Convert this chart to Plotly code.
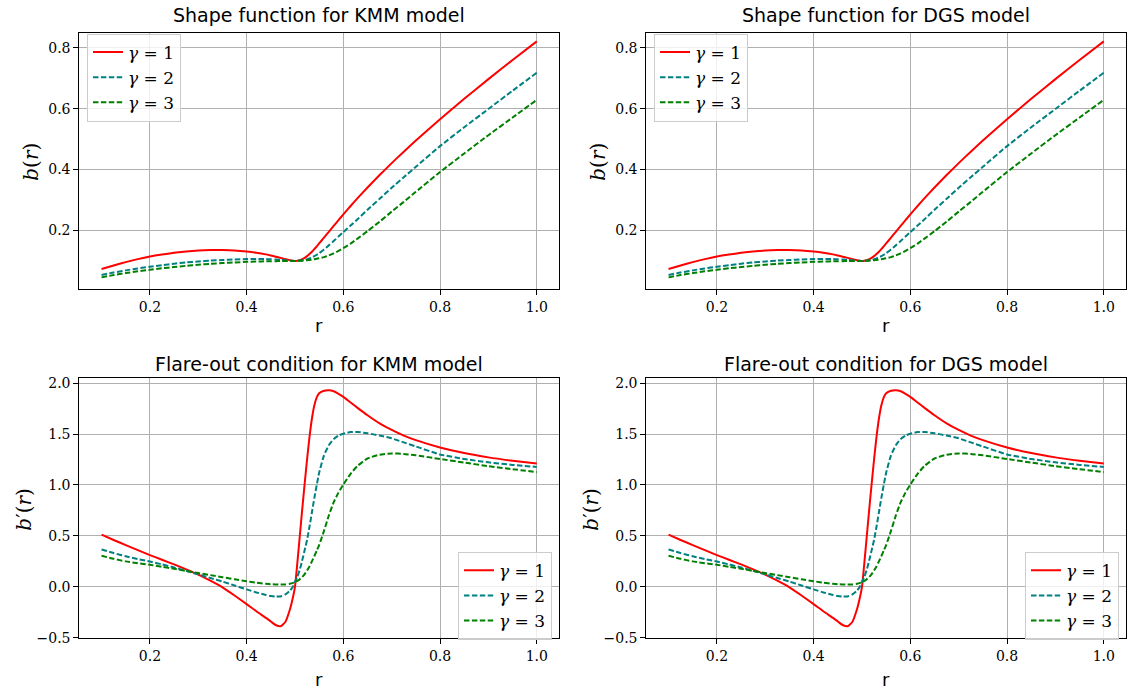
import plotly.graph_objects as go

# ---------------- data ----------------
r = [0.1, 0.125, 0.15, 0.175, 0.2, 0.225, 0.25, 0.275, 0.3, 0.325, 0.35, 0.375, 0.4,
     0.42, 0.44, 0.45, 0.46, 0.47, 0.48, 0.49, 0.495, 0.5, 0.505, 0.51, 0.515, 0.52,
     0.525, 0.53, 0.535, 0.54, 0.545, 0.55, 0.56, 0.57, 0.58, 0.59, 0.6, 0.615, 0.63,
     0.65, 0.675, 0.7, 0.725, 0.75, 0.8, 0.85, 0.9, 0.95, 1.0]

# shape function b(r)
b_g1 = [0.0735, 0.085, 0.096, 0.106, 0.1145, 0.121, 0.1265, 0.131, 0.134, 0.1355, 0.136, 0.1345, 0.131,
        0.127, 0.1215, 0.118, 0.114, 0.110, 0.106, 0.1025, 0.101, 0.100, 0.1006, 0.1025, 0.1056, 0.110,
        0.1157, 0.1225, 0.1303, 0.1389, 0.148, 0.1574, 0.1765, 0.1958, 0.215, 0.234, 0.2528, 0.2803, 0.3069,
        0.3411, 0.382, 0.4212, 0.4589, 0.4954, 0.5655, 0.6325, 0.6971, 0.7598, 0.821]
b_g2 = [0.054, 0.062, 0.069, 0.0755, 0.081, 0.086, 0.091, 0.095, 0.098, 0.101, 0.103, 0.105, 0.106,
        0.1063, 0.106, 0.1055, 0.1045, 0.1035, 0.102, 0.1007, 0.1002, 0.100, 0.1004, 0.1011, 0.1021, 0.1037,
        0.1057, 0.1084, 0.1117, 0.1157, 0.1203, 0.1256, 0.1377, 0.1511, 0.1653, 0.180, 0.1949, 0.216, 0.238,
        0.268, 0.304, 0.340, 0.375, 0.409, 0.477, 0.539, 0.599, 0.659, 0.718]
b_g3 = [0.046, 0.0535, 0.060, 0.066, 0.071, 0.0758, 0.080, 0.084, 0.0875, 0.0905, 0.093, 0.095, 0.097,
        0.098, 0.0988, 0.0991, 0.0993, 0.0995, 0.0997, 0.0999, 0.0999, 0.100, 0.1003, 0.1006, 0.101, 0.1016,
        0.1023, 0.1032, 0.1043, 0.1057, 0.1073, 0.1088, 0.1125, 0.118, 0.125, 0.133, 0.142, 0.157, 0.174,
        0.198, 0.229, 0.262, 0.294, 0.327, 0.392, 0.453, 0.513, 0.571, 0.629]

# flare-out b'(r)
db_g1 = [0.512, 0.460, 0.410, 0.360, 0.312, 0.266, 0.220, 0.172, 0.120, 0.060, -0.005, -0.085, -0.170,
         -0.240, -0.305, -0.340, -0.375, -0.387, -0.345, -0.215, -0.12, 0.0, 0.24, 0.50, 0.76, 1.01,
         1.25, 1.47, 1.65, 1.78, 1.86, 1.90, 1.925, 1.93, 1.92, 1.895, 1.865, 1.81, 1.755,
         1.685, 1.605, 1.54, 1.485, 1.44, 1.368, 1.313, 1.271, 1.238, 1.21]
db_g2 = [0.367, 0.332, 0.300, 0.273, 0.248, 0.220, 0.190, 0.157, 0.122, 0.087, 0.052, 0.013, -0.025,
         -0.055, -0.080, -0.090, -0.096, -0.094, -0.075, -0.035, -0.005, 0.05, 0.10, 0.17, 0.26, 0.36,
         0.46, 0.59, 0.73, 0.87, 1.00, 1.12, 1.29, 1.39, 1.45, 1.485, 1.503, 1.52, 1.52,
         1.508, 1.485, 1.458, 1.418, 1.378, 1.300, 1.255, 1.222, 1.197, 1.177]
db_g3 = [0.306, 0.275, 0.250, 0.232, 0.216, 0.197, 0.177, 0.156, 0.135, 0.115, 0.095, 0.074, 0.055,
         0.041, 0.030, 0.026, 0.023, 0.022, 0.024, 0.030, 0.036, 0.045, 0.058, 0.075, 0.097, 0.125,
         0.16, 0.20, 0.25, 0.30, 0.355, 0.41, 0.55, 0.70, 0.83, 0.925, 1.005, 1.11, 1.19,
         1.26, 1.297, 1.31, 1.305, 1.292, 1.255, 1.220, 1.185, 1.155, 1.126]

gamma_labels = ["<i>γ</i> = 1", "<i>γ</i> = 2", "<i>γ</i> = 3"]
panel_titles = ["Shape function for KMM model", "Shape function for DGS model",
                "Flare-out condition for KMM model", "Flare-out condition for DGS model"]
x_ticks = [0.2, 0.4, 0.6, 0.8, 1.0]
y_ticks_top = [0.2, 0.4, 0.6, 0.8]
y_ticks_bot = [-0.5, 0.0, 0.5, 1.0, 1.5, 2.0]

# ---------------- styling ----------------
W, H = 1130, 698
colors = ["#ff0000", "#008080", "#008000"]
dashes = ["solid", "5.5px,2.4px", "5.5px,2.4px"]
SERIF = "DejaVu Serif"
SANS = "DejaVu Sans"

def px_x(p):
    return p / W

def px_y(p):
    return 1 - p / H

xdom_left = [px_x(79.3), px_x(559.0)]
xdom_right = [px_x(646.3), px_x(1126.0)]
ydom_top = [px_y(290.5), px_y(30.0)]
ydom_bot = [px_y(644.6), px_y(380.9)]

fig = go.Figure()

panels = [
    ("x", "y", [b_g1, b_g2, b_g3], "legend"),
    ("x2", "y2", [b_g1, b_g2, b_g3], "legend2"),
    ("x3", "y3", [db_g1, db_g2, db_g3], "legend3"),
    ("x4", "y4", [db_g1, db_g2, db_g3], "legend4"),
]

for xa, ya, ys, lg in panels:
    for i, yv in enumerate(ys):
        fig.add_trace(go.Scatter(
            x=r, y=yv, mode="lines", name=gamma_labels[i],
            line=dict(color=colors[i], width=2, dash=dashes[i], shape="spline", smoothing=0.5),
            xaxis=xa, yaxis=ya, legend=lg, showlegend=True,
        ))

axis_common = dict(
    showgrid=True, gridcolor="#b0b0b0", gridwidth=1,
    showline=True, linecolor="black", linewidth=1, mirror=True,
    ticks="outside", ticklen=5, tickwidth=1, tickcolor="black",
    tickfont=dict(family=SERIF, size=14, color="black"),
    zeroline=False, tickformat=".1f",
)

xrange_ = [0.054, 1.046]
layout = dict(
    width=W, height=H,
    margin=dict(l=0, r=0, t=0, b=0),
    paper_bgcolor="white", plot_bgcolor="white",
    font=dict(family=SERIF, color="black"),
    xaxis=dict(domain=xdom_left, anchor="y", range=xrange_, tickvals=x_ticks, **axis_common),
    yaxis=dict(domain=ydom_top, anchor="x", range=[0.0067, 0.850], tickvals=y_ticks_top, **axis_common),
    xaxis2=dict(domain=xdom_right, anchor="y2", range=xrange_, tickvals=x_ticks, **axis_common),
    yaxis2=dict(domain=ydom_top, anchor="x2", range=[0.0067, 0.850], tickvals=y_ticks_top, **axis_common),
    xaxis3=dict(domain=xdom_left, anchor="y3", range=xrange_, tickvals=x_ticks, **axis_common),
    yaxis3=dict(domain=ydom_bot, anchor="x3", range=[-0.506, 2.046], tickvals=y_ticks_bot, **axis_common),
    xaxis4=dict(domain=xdom_right, anchor="y4", range=xrange_, tickvals=x_ticks, **axis_common),
    yaxis4=dict(domain=ydom_bot, anchor="x4", range=[-0.506, 2.046], tickvals=y_ticks_bot, **axis_common),
    showlegend=True,
)

leg_common = dict(
    bgcolor="rgba(255,255,255,0.8)", bordercolor="#cccccc", borderwidth=1,
    font=dict(family=SERIF, size=17, color="black"),
    tracegroupgap=0,
)
layout["legend"] = dict(x=px_x(87), y=px_y(31), xanchor="left", yanchor="top", **leg_common)
layout["legend2"] = dict(x=px_x(654), y=px_y(31), xanchor="left", yanchor="top", **leg_common)
layout["legend3"] = dict(x=px_x(552), y=px_y(646), xanchor="right", yanchor="bottom", **leg_common)
layout["legend4"] = dict(x=px_x(1119), y=px_y(646), xanchor="right", yanchor="bottom", **leg_common)

fig.update_layout(**layout)

annotations = []
centers_x = [(79.3 + 559.0) / 2, (646.3 + 1126.0) / 2]
for idx, t in enumerate(panel_titles):
    cx = centers_x[idx % 2]
    cy = 12 if idx < 2 else 366
    annotations.append(dict(text=t, x=px_x(cx), y=px_y(cy), xref="paper", yref="paper",
                            xanchor="center", yanchor="middle", showarrow=False,
                            font=dict(family=SANS, size=19, color="black")))
for idx in range(4):
    cx = centers_x[idx % 2]
    cy = 327 if idx < 2 else 686
    annotations.append(dict(text="r", x=px_x(cx), y=px_y(cy), xref="paper", yref="paper",
                            xanchor="center", yanchor="middle", showarrow=False,
                            font=dict(family=SANS, size=18, color="black")))
ylab = ["<i>b</i>(<i>r</i>)", "<i>b</i>(<i>r</i>)", "<i>b</i>′(<i>r</i>)", "<i>b</i>′(<i>r</i>)"]
ylab_x = [31, 598, 24, 591]
ylab_y = [161, 161, 514, 514]
for idx in range(4):
    annotations.append(dict(text=ylab[idx], x=px_x(ylab_x[idx]), y=px_y(ylab_y[idx]),
                            xref="paper", yref="paper", xanchor="center", yanchor="middle",
                            textangle=-90, showarrow=False,
                            font=dict(family=SERIF, size=20, color="black")))
fig.update_layout(annotations=annotations)

fig.write_html("out.html")
